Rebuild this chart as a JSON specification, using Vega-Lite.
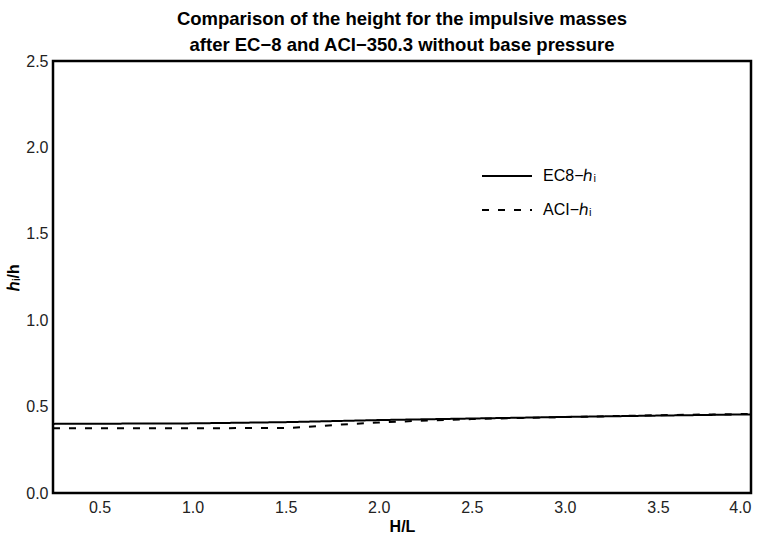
{
  "$schema": "https://vega.github.io/schema/vega-lite/v6.json",
  "width": 698,
  "height": 432,
  "padding": {"left": 5, "top": 9, "right": 14, "bottom": 6},
  "background": "white",
  "title": {
    "text": ["Comparison of the height for the impulsive masses", "after EC−8 and ACI−350.3 without base pressure"],
    "font": "Liberation Sans",
    "fontSize": 18.5,
    "fontWeight": "bold",
    "color": "black",
    "lineHeight": 26,
    "offset": -1,
    "anchor": "middle"
  },
  "config": {
    "view": {"stroke": "black", "strokeWidth": 2.5},
    "font": "Liberation Sans",
    "axis": {
      "domain": false,
      "ticks": false,
      "grid": false,
      "labelFont": "Liberation Sans",
      "labelFontSize": 16,
      "labelColor": "#222",
      "titleFont": "Liberation Sans",
      "titleFontSize": 16,
      "titleFontWeight": "bold",
      "titleColor": "black"
    }
  },
  "data": {
    "values": [
      {"HL": 0.25, "r": 0.400, "s": "EC8−ℎᵢ"},
      {"HL": 0.5, "r": 0.401, "s": "EC8−ℎᵢ"},
      {"HL": 1.0, "r": 0.403, "s": "EC8−ℎᵢ"},
      {"HL": 1.5, "r": 0.410, "s": "EC8−ℎᵢ"},
      {"HL": 2.0, "r": 0.422, "s": "EC8−ℎᵢ"},
      {"HL": 2.5, "r": 0.431, "s": "EC8−ℎᵢ"},
      {"HL": 3.0, "r": 0.440, "s": "EC8−ℎᵢ"},
      {"HL": 3.5, "r": 0.448, "s": "EC8−ℎᵢ"},
      {"HL": 4.0, "r": 0.455, "s": "EC8−ℎᵢ"},
      {"HL": 0.25, "r": 0.375, "s": "ACI−ℎᵢ"},
      {"HL": 0.5, "r": 0.375, "s": "ACI−ℎᵢ"},
      {"HL": 1.0, "r": 0.375, "s": "ACI−ℎᵢ"},
      {"HL": 1.5, "r": 0.376, "s": "ACI−ℎᵢ"},
      {"HL": 1.6, "r": 0.381, "s": "ACI−ℎᵢ"},
      {"HL": 1.8, "r": 0.396, "s": "ACI−ℎᵢ"},
      {"HL": 2.0, "r": 0.408, "s": "ACI−ℎᵢ"},
      {"HL": 2.2, "r": 0.417, "s": "ACI−ℎᵢ"},
      {"HL": 2.5, "r": 0.428, "s": "ACI−ℎᵢ"},
      {"HL": 3.0, "r": 0.440, "s": "ACI−ℎᵢ"},
      {"HL": 3.5, "r": 0.450, "s": "ACI−ℎᵢ"},
      {"HL": 4.0, "r": 0.458, "s": "ACI−ℎᵢ"}
    ]
  },
  "mark": {"type": "line", "color": "black", "strokeWidth": 2},
  "encoding": {
    "x": {
      "field": "HL", "type": "quantitative", "title": "H/L",
      "scale": {"domain": [0.25, 4.0], "nice": false, "zero": false},
      "axis": {"values": [0.5, 1.0, 1.5, 2.0, 2.5, 3.0, 3.5, 4.0], "format": ".1f", "labelPadding": 6, "titlePadding": 3}
    },
    "y": {
      "field": "r", "type": "quantitative", "title": "ℎᵢ/h",
      "scale": {"domain": [0, 2.5], "nice": false},
      "axis": {"values": [0, 0.5, 1.0, 1.5, 2.0, 2.5], "format": ".1f", "labelPadding": 5, "titlePadding": 4}
    },
    "strokeDash": {
      "field": "s", "type": "nominal",
      "scale": {"domain": ["EC8−ℎᵢ", "ACI−ℎᵢ"], "range": [[1, 0], [7, 9]]},
      "legend": {
        "title": null,
        "orient": "none",
        "legendX": 428,
        "legendY": 89,
        "symbolType": "stroke",
        "symbolSize": 2500,
        "symbolStrokeWidth": 2,
        "symbolStrokeColor": "black",
        "labelFontSize": 16,
        "labelColor": "black",
        "labelOffset": 10,
        "rowPadding": 0
      }
    }
  }
}
